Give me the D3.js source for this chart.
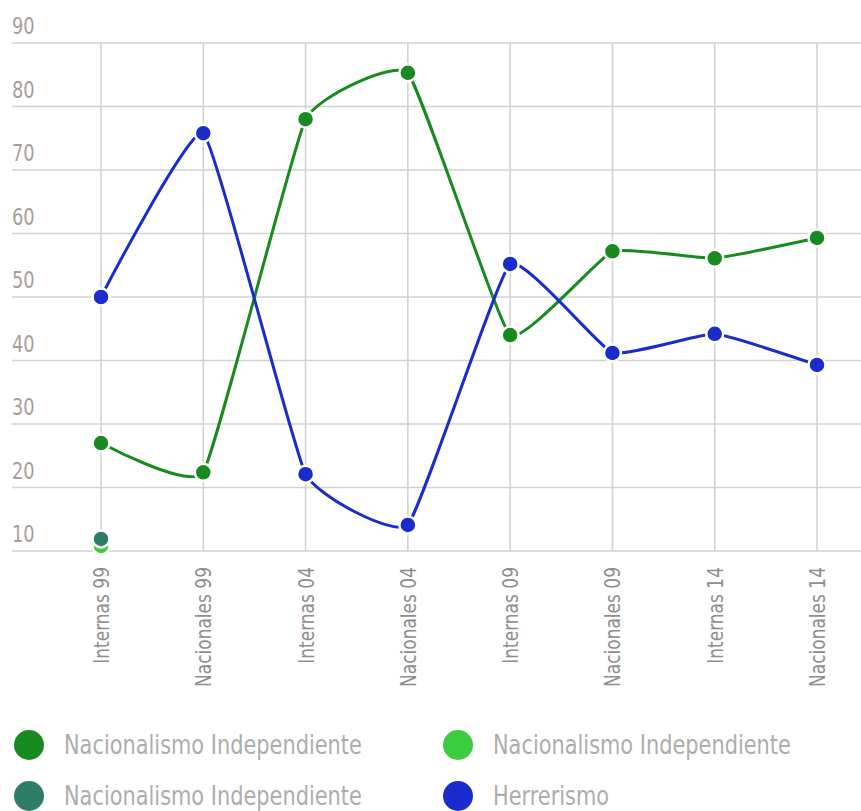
<!DOCTYPE html>
<html><head><meta charset="utf-8">
<script src="https://cdn.jsdelivr.net/npm/d3@7"></script>
<style>
body{margin:0;background:#fff;}
text{font-family:"DejaVu Sans Condensed","DejaVu Sans",sans-serif;}
</style></head>
<body><svg id="c" width="861" height="811"></svg>
<script>
const categories = ["Internas 99","Nacionales 99","Internas 04","Nacionales 04","Internas 09","Nacionales 09","Internas 14","Nacionales 14"];
const yTicks = [10,20,30,40,50,60,70,80,90];
const seriesNames = ["Nacionalismo Independiente","Nacionalismo Independiente","Nacionalismo Independiente","Herrerismo"];
const seriesColors = ["#188a1f","#3ccc40","#2e7d66","#1b2ccc"];
const niMain = [27,22.4,78,85.3,44,57.2,56.1,59.3];
const niLight = [10.8,null,null,null,null,null,null,null];
const niTeal = [11.9,null,null,null,null,null,null,null];
const herrerismo = [50,75.8,22.1,14.1,55.2,41.2,44.2,39.3];
const seriesValues = [niMain, niLight, niTeal, herrerismo];

const svg = d3.select("#c");
const x = d3.scalePoint().domain(categories).range([101,817]);
const y = d3.scaleLinear().domain([10,90]).range([551,43]);

// measure condensing factor
const m = svg.append("text").attr("font-size",27).text("Nacionalismo Independiente");
const f = 298 / m.node().getComputedTextLength();
m.remove();

const g = svg.append("g");
g.selectAll("line.h").data(yTicks).join("line")
  .attr("x1",12).attr("x2",861).attr("y1",d=>y(d)).attr("y2",d=>y(d))
  .attr("stroke","#d2d2d2").attr("stroke-width",1.6);
g.selectAll("line.v").data(categories).join("line")
  .attr("x1",d=>x(d)).attr("x2",d=>x(d)).attr("y1",y(90)).attr("y2",y(10))
  .attr("stroke","#d2d2d2").attr("stroke-width",1.6);
g.selectAll("text.yl").data(yTicks).join("text")
  .attr("transform",d=>`translate(12,${y(d)-9}) scale(${f},1)`)
  .attr("fill","#a39f9c").attr("font-size",23).text(d=>d);
g.selectAll("text.xl").data(categories).join("text")
  .attr("transform",d=>`translate(${x(d)+8},567) rotate(-90) scale(${f},1)`)
  .attr("text-anchor","end").attr("fill","#8e8e8e").attr("font-size",22).text(d=>d);

const line = d3.line().defined(d=>d.v!=null).x(d=>x(d.c)).y(d=>y(d.v)).curve(d3.curveCardinal.tension(0.65));
seriesValues.forEach((vals,i)=>{
  const pts = vals.map((v,j)=>({c:categories[j],v}));
  svg.append("path").datum(pts).attr("d",line).attr("fill","none")
    .attr("stroke",seriesColors[i]).attr("stroke-width",3);
});
[1,0,2,3].forEach(i=>{
  const pts = seriesValues[i].map((v,j)=>({c:categories[j],v})).filter(d=>d.v!=null);
  svg.append("g").selectAll("circle").data(pts).join("circle")
    .attr("cx",d=>x(d.c)).attr("cy",d=>y(d.v)).attr("r",8.5)
    .attr("fill",seriesColors[i]).attr("stroke","#fff").attr("stroke-width",2.5);
});

// legend
const legPos = [[29,745],[458,745],[29,796],[458,796]];
seriesNames.forEach((n,i)=>{
  const [lx,ly]=legPos[i];
  svg.append("circle").attr("cx",lx).attr("cy",ly).attr("r",15).attr("fill",seriesColors[i]);
  svg.append("text").attr("transform",`translate(${lx+35},${ly+9}) scale(${f},1)`)
    .attr("fill","#adadad").attr("font-size",27).text(n);
});
</script></body></html>
